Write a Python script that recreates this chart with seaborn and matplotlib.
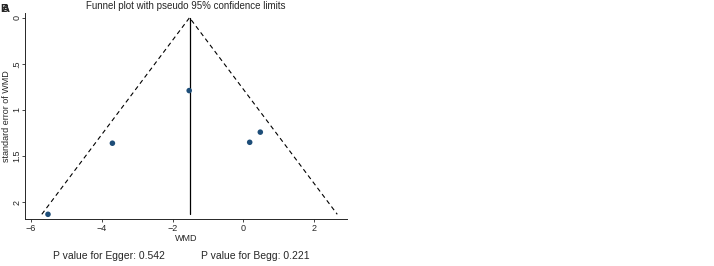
import matplotlib
matplotlib.use("Agg")
import matplotlib.pyplot as plt
import seaborn as sns
import numpy as np
import pandas as pd

# study estimates (WMD) and their standard errors
wmd = [-1.53, 0.48, 0.18, -3.70, -5.52]
se = [0.79, 1.24, 1.35, 1.36, 2.13]
pooled = -1.52
x_ticks = [-6, -4, -2, 0, 2]
x_ticklabels = ["\u22126", "\u22124", "\u22122", "0", "2"]
y_ticks = [0, 0.5, 1, 1.5, 2]
y_ticklabels = ["0", ".5", "1", "1.5", "2"]
p_egger = "0.542"
p_begg = "0.221"

df = pd.DataFrame({"WMD": wmd, "SE": se})

sns.set_style("ticks")
plt.rcParams["font.family"] = ["Liberation Sans", "DejaVu Sans"]

fig = plt.figure(figsize=(7.14, 2.66), dpi=100)
ax = fig.add_axes([0.035, 0.177, 0.451, 0.774])

# pseudo 95% confidence limits
se_max = max(se)
ax.plot([pooled - 1.96 * se_max, pooled, pooled + 1.96 * se_max],
        [se_max, 0, se_max], color="black", lw=0.8, ls=(0, (4, 3)))
ax.plot([pooled, pooled], [0, se_max], color="black", lw=0.9)

sns.scatterplot(data=df, x="WMD", y="SE", ax=ax, color="#1d4d78",
                s=16, edgecolor="none", zorder=3)

ax.set_xlim(-6.17, 2.93)
ax.set_ylim(2.18, -0.05)
ax.set_xticks(x_ticks)
ax.set_xticklabels(x_ticklabels)
ax.set_yticks(y_ticks)
ax.set_yticklabels(y_ticklabels, rotation=90, va="center")
ax.tick_params(labelsize=6.5, length=2.5, width=0.6, pad=1)
ax.tick_params(axis="y", pad=0)
for s in ["top", "right"]:
    ax.spines[s].set_visible(False)
for s in ["left", "bottom"]:
    ax.spines[s].set_linewidth(0.7)

ax.set_xlabel("WMD", fontsize=6.5, labelpad=1)
ax.set_ylabel("standard error of WMD", fontsize=6.5)
ax.yaxis.set_label_coords(-0.042, 0.5)
ax.set_title("Funnel plot with pseudo 95% confidence limits", fontsize=7, pad=3)

fig.text(0.002, 0.985, "A", fontsize=8, fontweight="bold", va="top", ha="left")
fig.text(0.0, 0.985, "B", fontsize=8, fontweight="bold", va="top", ha="left")

fig.text(0.153, 0.025, "P value for Egger: " + p_egger, fontsize=7.5, ha="center")
fig.text(0.358, 0.025, "P value for Begg: " + p_begg, fontsize=7.5, ha="center")

fig.savefig("out.png", dpi=100)
